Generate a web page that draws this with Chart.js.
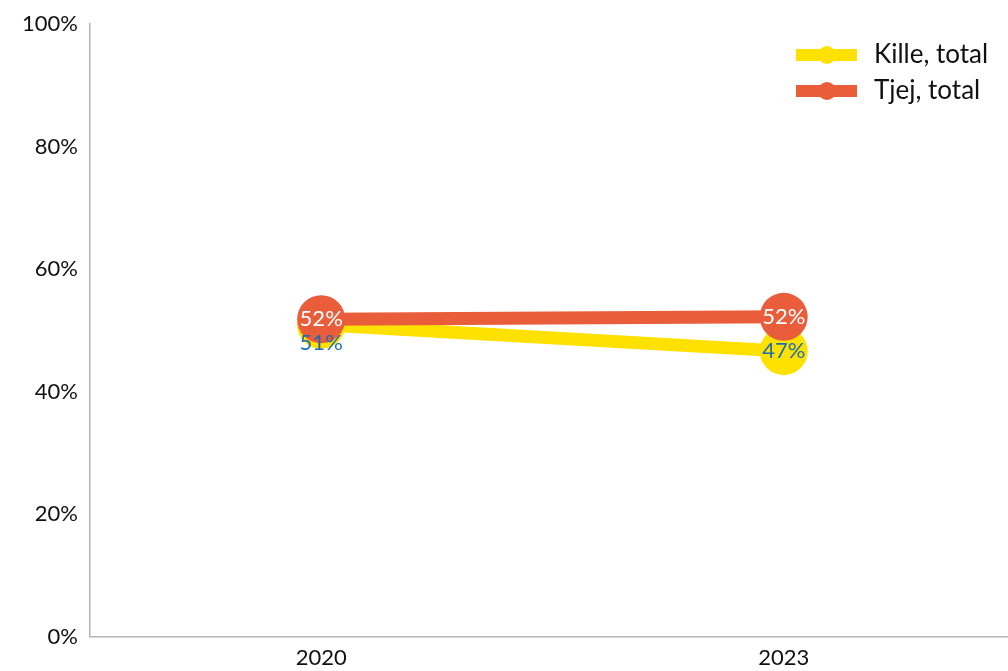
<!DOCTYPE html>
<html>
<head>
<meta charset="utf-8">
<script src="https://cdn.jsdelivr.net/npm/chart.js"></script>
<style>
  html, body { margin: 0; padding: 0; background: #fff; }
  /* the plot runs slightly past the right edge in the reference */
  #wrap { width: 1008px; height: 671px; overflow: hidden; }
</style>
</head>
<body>
<div id="wrap"><canvas id="chart" width="1039" height="671"></canvas></div>
<script>
// Data
const years = ['2020', '2023'];
const killeValues = [50.9, 46.6];
const tjejValues = [51.8, 52.2];
const yTicks = [0, 20, 40, 60, 80, 100];

const FONT = 'Lato, "Open Sans", sans-serif';
const YELLOW = '#FFE100';
const ORANGE = '#E95D3B';

// Draws the % labels on top of each point, pushing apart ones that collide
const pointLabels = {
    id: 'pointLabels',
    afterDatasetsDraw(chart) {
        const ctx = chart.ctx;
        ctx.save();
        ctx.font = '22px ' + FONT;
        ctx.textAlign = 'center';
        ctx.textBaseline = 'middle';
        const metaK = chart.getDatasetMeta(0);
        const metaT = chart.getDatasetMeta(1);
        metaK.data.forEach((pt, i) => {
            const tp = metaT.data[i];
            let yk = pt.y, yt = tp.y;
            if (Math.abs(yk - yt) < 20) {
                yk = yt + 24;
            }
            ctx.fillStyle = '#1E6DB4';
            ctx.fillText(Math.round(chart.data.datasets[0].data[i]) + '%', pt.x, yk);
            ctx.fillStyle = '#ffffff';
            ctx.fillText(Math.round(chart.data.datasets[1].data[i]) + '%', tp.x, yt);
        });
        ctx.restore();
    }
};

// Legend with a thick line and a dot, top right
const lineLegend = {
    id: 'lineLegend',
    afterDraw(chart) {
        const ctx = chart.ctx;
        ctx.save();
        chart.data.datasets.forEach((ds, i) => {
            const y = 55 + i * 36;
            ctx.strokeStyle = ds.borderColor;
            ctx.lineWidth = 12;
            ctx.beginPath();
            ctx.moveTo(796, y);
            ctx.lineTo(857, y);
            ctx.stroke();
            ctx.fillStyle = ds.borderColor;
            ctx.beginPath();
            ctx.arc(827, y, 9, 0, Math.PI * 2);
            ctx.fill();
            ctx.fillStyle = '#111';
            ctx.font = '26px ' + FONT;
            ctx.textAlign = 'left';
            ctx.textBaseline = 'middle';
            ctx.fillText(ds.label, 874, y);
        });
        ctx.restore();
    }
};

new Chart(document.getElementById('chart'), {
    type: 'line',
    data: {
        labels: years,
        datasets: [{
            label: 'Kille, total',
            data: killeValues,
            order: 2,
            borderColor: YELLOW,
            backgroundColor: YELLOW,
            borderWidth: 13,
            pointRadius: 24,
            pointHoverRadius: 24,
            pointBorderWidth: 0
        }, {
            label: 'Tjej, total',
            data: tjejValues,
            order: 1,
            borderColor: ORANGE,
            backgroundColor: ORANGE,
            borderWidth: 13,
            pointRadius: 24,
            pointHoverRadius: 24,
            pointBorderWidth: 0
        }]
    },
    options: {
        responsive: false,
        animation: false,
        layout: { padding: { top: 3, right: 0, left: 18, bottom: 0 } },
        plugins: {
            legend: { display: false },
            tooltip: { enabled: false }
        },
        scales: {
            x: {
                offset: true,
                grid: { display: false, drawTicks: true, tickLength: 8, tickColor: '#b5b5b5' },
                border: { color: '#b5b5b5', width: 1.5 },
                ticks: { color: '#111', font: { family: FONT, size: 22 }, padding: 0 }
            },
            y: {
                min: 0,
                max: 100,
                afterBuildTicks(axis) {
                    axis.ticks = yTicks.map(v => ({ value: v }));
                },
                grid: { display: false, drawTicks: true, tickLength: 8, tickColor: '#b5b5b5' },
                border: { color: '#b5b5b5', width: 1.5 },
                ticks: {
                    color: '#111',
                    font: { family: FONT, size: 22 },
                    padding: 4,
                    callback: v => v + '%'
                }
            }
        }
    },
    plugins: [pointLabels, lineLegend]
});
</script>
</body>
</html>
